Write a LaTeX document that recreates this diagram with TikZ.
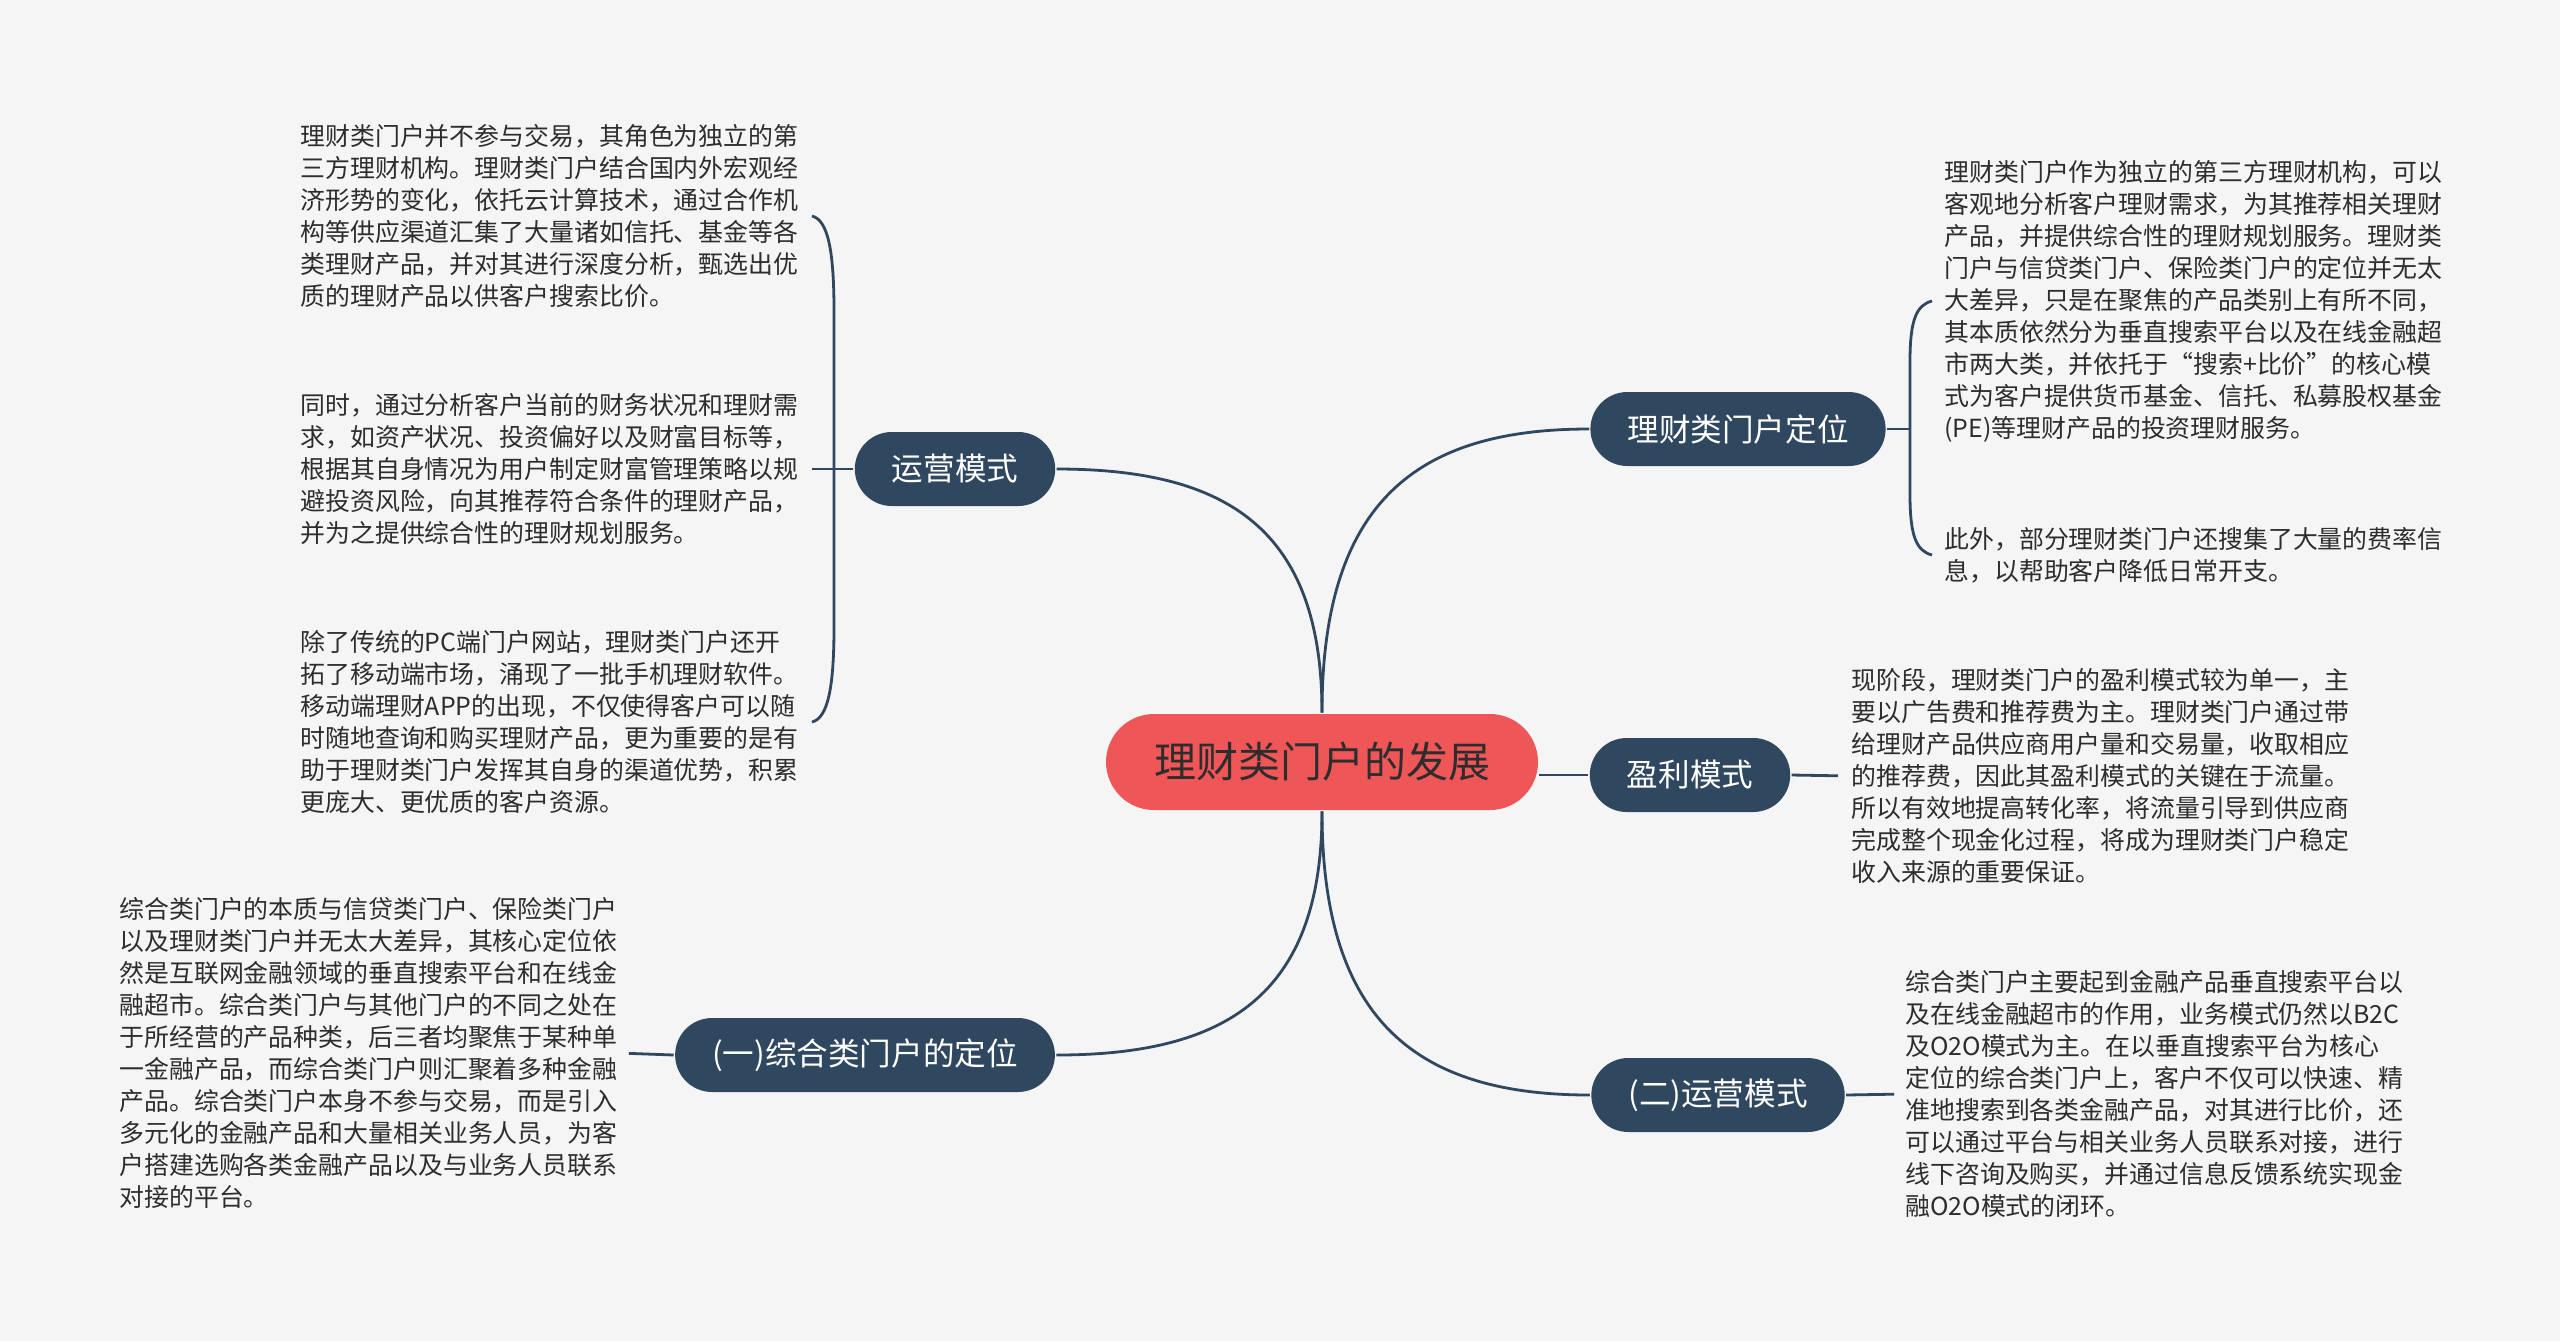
\documentclass[tikz,border=0pt]{standalone}
\usepackage{fontspec}
\setmainfont{Noto Sans CJK SC}
\usetikzlibrary{calc}
\definecolor{navy}{RGB}{47,71,95}
\definecolor{coral}{RGB}{239,86,88}
\definecolor{bgray}{RGB}{245,245,245}
\definecolor{ink}{RGB}{45,45,45}

\begin{document}
\begin{tikzpicture}[x=0.5pt, y=-0.5pt, every node/.style = {align=left}, line width=1.4pt]
	\tikzstyle{hub} = [fill=coral, text=ink, rounded corners=24pt, minimum height=48pt, inner xsep=24pt, font=\fontsize{21pt}{24pt}\selectfont]
	\tikzstyle{topic} = [fill=navy, text=white, rounded corners=18.5pt, minimum height=37pt, inner xsep=18.5pt, font=\fontsize{15.8pt}{18pt}\selectfont]
	\tikzstyle{txt} = [inner sep=0pt, text=ink, font=\fontsize{12.45pt}{16pt}\selectfont]
	\tikzstyle{link} = [draw=navy]
	\fill[bgray] (0,0) rectangle (2560,1341);
	\useasboundingbox (0,0) rectangle (2560,1341);
	% centre and branches
	\node[hub] (root) at (1322,762) {理财类门户的发展};
	\node[topic] (ops) at (955,469) {运营模式};
	\node[topic] (comp) at (865,1055) {(一)综合类门户的定位};
	\node[topic] (pos) at (1738,429) {理财类门户定位};
	\node[topic] (prof) at (1690,775) {盈利模式};
	\node[topic] (ops2) at (1718,1095) {(二)运营模式};
	% texts
	\node[txt, anchor=west] (opsA) at (299,216) {理财类门户并不参与交易，其角色为独立的第\\三方理财机构。理财类门户结合国内外宏观经\\济形势的变化，依托云计算技术，通过合作机\\构等供应渠道汇集了大量诸如信托、基金等各\\类理财产品，并对其进行深度分析，甄选出优\\质的理财产品以供客户搜索比价。};
	\node[txt, anchor=west] (opsB) at (299,469) {同时，通过分析客户当前的财务状况和理财需\\求，如资产状况、投资偏好以及财富目标等，\\根据其自身情况为用户制定财富管理策略以规\\避投资风险，向其推荐符合条件的理财产品，\\并为之提供综合性的理财规划服务。};
	\node[txt, anchor=west] (opsC) at (299,722) {除了传统的PC端门户网站，理财类门户还开\\拓了移动端市场，涌现了一批手机理财软件。\\移动端理财APP的出现，不仅使得客户可以随\\时随地查询和购买理财产品，更为重要的是有\\助于理财类门户发挥其自身的渠道优势，积累\\更庞大、更优质的客户资源。};
	\node[txt, anchor=west] (compA) at (118,1053) {综合类门户的本质与信贷类门户、保险类门户\\以及理财类门户并无太大差异，其核心定位依\\然是互联网金融领域的垂直搜索平台和在线金\\融超市。综合类门户与其他门户的不同之处在\\于所经营的产品种类，后三者均聚焦于某种单\\一金融产品，而综合类门户则汇聚着多种金融\\产品。综合类门户本身不参与交易，而是引入\\多元化的金融产品和大量相关业务人员，为客\\户搭建选购各类金融产品以及与业务人员联系\\对接的平台。};
	\node[txt, anchor=west] (posA) at (1943,301) {理财类门户作为独立的第三方理财机构，可以\\客观地分析客户理财需求，为其推荐相关理财\\产品，并提供综合性的理财规划服务。理财类\\门户与信贷类门户、保险类门户的定位并无太\\大差异，只是在聚焦的产品类别上有所不同，\\其本质依然分为垂直搜索平台以及在线金融超\\市两大类，并依托于“搜索+比价”的核心模\\式为客户提供货币基金、信托、私募股权基金\\(PE)等理财产品的投资理财服务。};
	\node[txt, anchor=west] (posB) at (1943,555) {此外，部分理财类门户还搜集了大量的费率信\\息，以帮助客户降低日常开支。};
	\node[txt, anchor=west] (profA) at (1850,776) {现阶段，理财类门户的盈利模式较为单一，主\\要以广告费和推荐费为主。理财类门户通过带\\给理财产品供应商用户量和交易量，收取相应\\的推荐费，因此其盈利模式的关键在于流量。\\所以有效地提高转化率，将流量引导到供应商\\完成整个现金化过程，将成为理财类门户稳定\\收入来源的重要保证。};
	\node[txt, anchor=west] (ops2A) at (1904,1094) {综合类门户主要起到金融产品垂直搜索平台以\\及在线金融超市的作用，业务模式仍然以B2C\\及O2O模式为主。在以垂直搜索平台为核心\\定位的综合类门户上，客户不仅可以快速、精\\准地搜索到各类金融产品，对其进行比价，还\\可以通过平台与相关业务人员联系对接，进行\\线下咨询及购买，并通过信息反馈系统实现金\\融O2O模式的闭环。};
	% bracket ends
	\coordinate (ltop) at (812,216);
	\coordinate (lbot) at (812,722);
	\coordinate (rtop) at (1932,301);
	\coordinate (rbot) at (1932,555);
	\coordinate (rjoin) at ($(rtop)!0.5!(rbot)+(-22,0)$);
	% connectors
	\draw[link] (root.north) .. controls +(0,-213) and +(-170,0) .. (pos.west);
	\draw[link] (root.north) .. controls +(0,-184) and +(170,0) .. (ops.east);
	\draw[link] (root.south) .. controls +(0,213) and +(-170,0) .. (ops2.west);
	\draw[link] (root.south) .. controls +(0,184) and +(170,0) .. (comp.east);
	\draw[link] (root.east |- prof.west) -- (prof.west);
	\draw[link, shorten >=6pt] (prof.east) -- (profA.west);
	\draw[link, shorten >=5pt] (ops2.east) -- (ops2A.west);
	\draw[link, shorten >=5pt] (comp.west) -- (compA.east);
	\draw[link] (ops.west) -- (ops.west -| ltop);
	\draw[link] (pos.east) -- (pos.east -| rjoin);
	\draw[link] (ltop) .. controls +(16,4) and +(0,-60) .. ($(ltop)+(22,95)$) -- ($(lbot)+(22,-95)$) .. controls +(0,60) and +(16,-4) .. (lbot);
	\draw[link] (rtop) .. controls +(-16,4) and +(0,-40) .. ($(rtop)+(-22,60)$) -- ($(rbot)+(-22,-60)$) .. controls +(0,40) and +(-16,-4) .. (rbot);
\end{tikzpicture}
\end{document}
